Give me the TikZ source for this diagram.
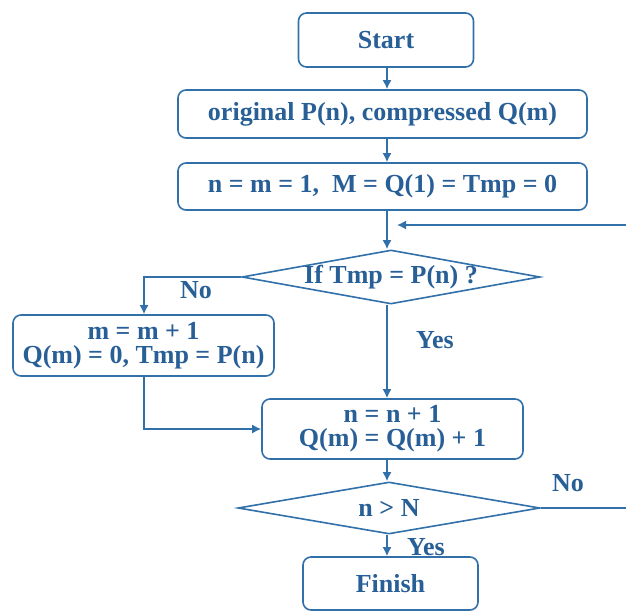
\documentclass[tikz,border=0pt]{standalone}
\usepackage{fontspec}
\setmainfont{Liberation Serif}
\usetikzlibrary{shapes.geometric,arrows.meta,calc}
\definecolor{flow}{RGB}{50,112,170}
\definecolor{flowtext}{RGB}{40,95,150}
\begin{document}
\begin{tikzpicture}[x=1pt,y=-1pt,
  line width=1.6pt,
  every node/.style={font=\fontsize{26}{24}\selectfont\bfseries, text=flowtext},
  box/.style={draw=flow, rounded corners=8pt, inner sep=0pt, align=center},
  decision/.style={draw=flow, diamond, inner sep=0pt},
  link/.style={draw=flow, -{Latex[length=9pt,width=9pt]}},
  plain/.style={draw=flow},
  tag/.style={inner sep=0pt}]
\useasboundingbox (0,0) rectangle (626,612);

% process boxes
\node[box, minimum width=175pt, minimum height=54pt] (start) at (386,40) {Start};
\node[box, minimum width=409pt, minimum height=48pt] (orig) at (382.5,114) {original P(n), compressed Q(m)};
\node[box, minimum width=409pt, minimum height=47pt] (init) at (382.5,186.5) {n = m = 1,\ \ M = Q(1) = Tmp = 0};
\node[box, minimum width=261pt, minimum height=61pt] (newm) at (143.5,345.5) {m = m + 1\\Q(m) = 0, Tmp = P(n)};
\node[box, minimum width=261pt, minimum height=60pt] (incr) at (392.5,429) {n = n + 1\\Q(m) = Q(m) + 1};
\node[box, minimum width=175pt, minimum height=53pt] (finish) at (390.5,583.5) {Finish};

% decisions
\node[decision, minimum width=298pt, minimum height=54pt] (same) at (391,277) {};
\node at (same) {If Tmp = P(n) ?};
\node[decision, minimum width=302pt, minimum height=52pt] (done) at (389,508) {};
\node at (done) {n > N};

% main column
\coordinate (col) at (387,0);
\path[link] (start.south -| col) -- (orig.north -| col);
\path[link] (orig.south -| col) -- (init.north -| col);
\path[link] (init.south -| col) -- (same.north -| col);

% loop back from the right edge
\coordinate (back) at (626,225);
\coordinate (backend) at (397,225);
\path[link] (back) -- (backend);

% No branch of the first test
\coordinate (nocol) at (144,0);
\path[link] (same.west) -- (same.west -| nocol) -- (newm.north -| nocol);
\node[tag] at (196,290) {No};

% Yes branch of the first test
\path[link] (same.south -| col) -- (incr.north -| col);
\node[tag] at (435,340) {Yes};

% rejoin
\path[link] (newm.south -| nocol) |- (incr.west);

% second test
\path[link] (incr.south -| col) -- (done.north -| col);
\path[link] (done.south -| col) -- (finish.north -| col);
\node[tag] at (426,547) {Yes};
\coordinate (out) at (626,508);
\path[plain] (done.east) -- (out);
\node[tag] at (568,483) {No};
\end{tikzpicture}
\end{document}
